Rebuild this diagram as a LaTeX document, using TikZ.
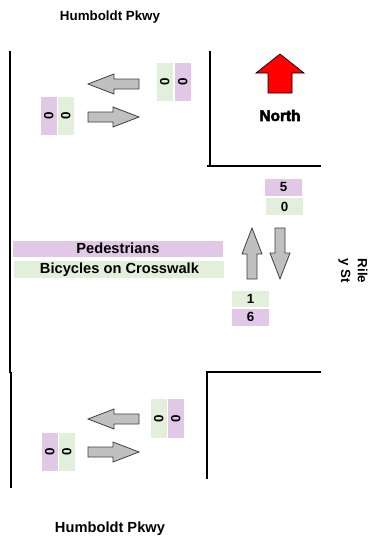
\documentclass[tikz,border=0pt]{standalone}
\usepackage{fontspec}
\setmainfont{Liberation Sans}
\newfontfamily\northfont[FakeBold=3.5]{Liberation Sans Bold}
\usetikzlibrary{positioning}

\definecolor{pedpurple}{HTML}{E1C8E7}
\definecolor{bikegreen}{HTML}{E2EFDA}
\definecolor{arrowgray}{HTML}{C0C0C0}
\definecolor{arrowedge}{HTML}{404040}

\begin{document}
\begin{tikzpicture}[
    x=0.75pt, y=-0.75pt,
    street/.style={font=\fontsize{10}{12.5}\selectfont\bfseries, inner sep=0pt},
    count/.style={rectangle, inner sep=0pt, font=\fontsize{10}{12}\selectfont\bfseries, text height=1.5ex, text depth=0.25ex},
    pedcount/.style={count, fill=pedpurple},
    bikecount/.style={count, fill=bikegreen},
    flatbox/.style={minimum width=27.75pt, minimum height=12.5pt},
    pairbox/.style={rotate=90, minimum width=28.5pt, minimum height=12pt},
    widebox/.style={minimum width=157.5pt, minimum height=12.5pt, font=\fontsize{11}{13}\selectfont\bfseries},
    curb/.style={draw=black, line width=0.8pt},
    blockarrow/.pic={
        \draw[fill=arrowgray, draw=arrowedge, line width=0.6pt]
            (0,-5) -- (25,-5) -- (25,-10) -- (51,0) -- (25,10) -- (25,5) -- (0,5) -- cycle;
    }
]
    \useasboundingbox (0,0) rectangle (375,536);

    % Curbs ===========================
    \draw[curb] (10,51) -- (10,373);
    \draw[curb] (11,372) -- (11,488);
    \draw[curb] (210,51) -- (210,166) (207,166) -- (321,166);
    \draw[curb] (321,372) -- (207,372) -- (207,479);

    % Street names ===========================
    \node[street, anchor=base] (pkwytop) at (110,20) {Humboldt Pkwy};
    \node[street, anchor=base, font=\fontsize{11}{13}\selectfont\bfseries] (pkwybot) at (110,532) {Humboldt Pkwy};
    \node[street, rotate=-90, align=left] (riley) at (353,271) {Rile\\y St};

    % North ===========================
    \draw[fill=red, draw=black, line width=0.5pt]
        (268,93) -- (268,73) -- (256,73) -- (280,54) -- (304,73) -- (292,73) -- (292,93) -- cycle;
    \node[font=\fontsize{11.5}{13}\selectfont\northfont] (north) at (280,115.5) {North};

    % Top Humboldt counts ===========================
    \node[bikecount, pairbox] (tebike) at (165,82) {0};
    \node[pedcount, pairbox] (teped) at (183,82) {0};
    \node[pedcount, pairbox] (twped) at (49,115.5) {0};
    \node[bikecount, pairbox] (twbike) at (66,115.5) {0};
    \pic[rotate=180] at (139,84) {blockarrow};
    \pic at (88,117) {blockarrow};

    % Riley counts ===========================
    \node[pedcount, flatbox] (sbped) at (283.5,187.5) {5};
    \node[bikecount, flatbox, below=1.5pt of sbped, xshift=0.75pt] (sbbike) {0};
    \node[bikecount, flatbox] (nbbike) at (250.5,299) {1};
    \node[pedcount, flatbox, below=0.75pt of nbbike] (nbped) {6};
    \pic[rotate=90] at (252,279) {blockarrow};
    \pic[rotate=-90] at (280,228) {blockarrow};

    % Legend ===========================
    \node[pedcount, widebox] (legped) at (118,249) {Pedestrians};
    \node[bikecount, widebox, below=2.25pt of legped, xshift=1.1pt] (legbike) {Bicycles on Crosswalk};

    % Bottom Humboldt counts ===========================
    \node[bikecount, pairbox, minimum width=29.25pt] (bebike) at (159,418.5) {0};
    \node[pedcount, pairbox, minimum width=29.25pt] (beped) at (176,418.5) {0};
    \node[pedcount, pairbox] (bwped) at (50,452) {0};
    \node[bikecount, pairbox] (bwbike) at (67,452) {0};
    \pic[rotate=180] at (139,419) {blockarrow};
    \pic at (88,452) {blockarrow};

\end{tikzpicture}
\end{document}
